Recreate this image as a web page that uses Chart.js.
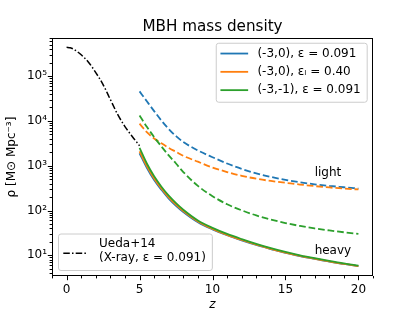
<!DOCTYPE html>
<html><head><meta charset="utf-8">
<script src="https://cdn.jsdelivr.net/npm/chart.js@4/dist/chart.umd.min.js"></script>
<style>html,body{margin:0;padding:0;background:#fff}</style>
</head><body>
<canvas id="c" width="415" height="311"></canvas>
<script>
// ---- data ----
const zModel = [5,5.5,6,6.5,7,7.5,8,9,10,11,12,13,14,15,16,17,18,19,20];
const heavyBlue   = [1900,900,480,290,185,128,93,55,38,28,21.5,17,13.8,11.3,9.6,8.3,7.2,6.4,5.7];
const lightBlue   = [45700,27500,16600,10200,6600,4570,3390,2190,1550,1120,850,676,562,484,427,385,355,331,309];
const heavyOrange = [2100,980,520,310,197,135,97,57,39,28.7,22,17.3,14,11.5,9.7,8.4,7.3,6.4,5.75];
const lightOrange = [8710,5620,4070,3160,2510,2040,1660,1230,912,724,596,513,457,417,380,351,327,309,295];
const heavyGreen  = [2500,1120,580,340,215,146,104,60,41,30,23,18,14.5,11.9,10,8.6,7.5,6.6,5.9];
const lightGreen  = [13200,7410,4370,2690,1700,1120,724,355,209,138,101,77.6,63,52.5,45.2,39.8,35.9,32.7,30.2];
const zUeda = [0,0.25,0.5,0.75,1,1.5,2,2.5,3,3.5,4,4.5,5];
const rhoUeda = [440000,430000,400000,350000,300000,205000,120000,65000,30000,14000,7500,4500,2800];
const seriesLabels = ['(-3,0), ε = 0.091', '(-3,0), εₗ = 0.40', '(-3,-1), ε = 0.091'];
const uedaLabel = ['Ueda+14', '(X-ray, ε = 0.091)'];
const xTickLabels = [0,5,10,15,20];
const yTickLabels = {1:'10¹',2:'10²',3:'10³',4:'10⁴',5:'10⁵'};
const annotations = [{text:'light', z:17.0, rho:690}, {text:'heavy', z:17.0, rho:12.6}];

const FONT = '"DejaVu Sans", sans-serif';
const C = {blue:'#1f77b4', orange:'#ff7f0e', green:'#2ca02c'};
const pts = (xs, ys) => xs.map((x,i)=>({x, y: ys[i]}));
const LW = 1.8, DASH = [6.7, 2.9];

const datasets = [
  {label:seriesLabels[0], data:pts(zModel,heavyBlue), borderColor:C.blue, order:6, legendGroup:1},
  {label:'', data:pts(zModel,lightBlue), borderColor:C.blue, borderDash:DASH, order:5},
  {label:seriesLabels[1], data:pts(zModel,heavyOrange), borderColor:C.orange, order:4, legendGroup:1},
  {label:'', data:pts(zModel,lightOrange), borderColor:C.orange, borderDash:DASH, order:3},
  {label:seriesLabels[2], data:pts(zModel,heavyGreen), borderColor:C.green, order:2, legendGroup:1},
  {label:'', data:pts(zModel,lightGreen), borderColor:C.green, borderDash:DASH, order:1},
  {label:uedaLabel.join('\n'), data:pts(zUeda,rhoUeda), borderColor:'#000', borderWidth:1.5, borderDash:[6.5,2.2,1.5,2.2], order:0, legendGroup:2}
].map(d=>Object.assign({borderWidth:LW, pointRadius:0, fill:false, cubicInterpolationMode:'monotone', backgroundColor:d.borderColor}, d));

const frameTicks = {
  id:'frameTicks',
  afterDraw(chart){
    const {ctx, chartArea:ca, scales:{x,y}} = chart;
    ctx.save();
    ctx.strokeStyle='#000'; ctx.lineWidth=1;
    ctx.strokeRect(Math.round(ca.left)+0.5, Math.round(ca.top)+0.5, Math.round(ca.right-ca.left)-1, Math.round(ca.bottom-ca.top)-1);
    ctx.beginPath();
    x.ticks.forEach(t=>{
      const v=t.value; if(!Number.isInteger(v)) return;
      const px=Math.round(x.getPixelForValue(v))+0.5, len = v%5===0?4.2:2.4;
      ctx.moveTo(px, ca.bottom); ctx.lineTo(px, ca.bottom+len);
    });
    for (let e=0;e<7;e++) for (let m=1;m<10;m++){
      const v=m*Math.pow(10,e); if(v<y.min||v>y.max) continue;
      const py=Math.round(y.getPixelForValue(v))+0.5, len = m===1?4.2:2.4;
      ctx.moveTo(ca.left, py); ctx.lineTo(ca.left-len, py);
    }
    ctx.stroke();
    // annotations
    ctx.fillStyle='#000'; ctx.font='12px '+FONT; ctx.textBaseline='middle'; ctx.textAlign='left';
    annotations.forEach(a=>ctx.fillText(a.text, x.getPixelForValue(a.z), y.getPixelForValue(a.rho)));
    // legends
    const box=(l,t,w,h)=>{
      ctx.beginPath();
      if (ctx.roundRect) ctx.roundRect(l+0.5,t+0.5,w,h,2.5); else ctx.rect(l+0.5,t+0.5,w,h);
      ctx.fillStyle='rgba(255,255,255,0.8)'; ctx.fill();
      ctx.strokeStyle='#cccccc'; ctx.lineWidth=1; ctx.stroke();
    };
    const handle=(ds,x0,x1,yy)=>{
      ctx.save(); ctx.beginPath(); ctx.strokeStyle=ds.borderColor; ctx.lineWidth=ds.borderWidth;
      ctx.setLineDash(ds.borderDash||[]); ctx.moveTo(x0,yy); ctx.lineTo(x1,yy); ctx.stroke(); ctx.restore();
    };
    ctx.font='12px '+FONT;
    const g1 = chart.data.datasets.filter(d=>d.legendGroup===1);
    const tw1 = Math.max(...g1.map(d=>ctx.measureText(d.label).width));
    const w1 = 4.7+27.7+9.3+tw1+6, h1=59;
    const r1 = ca.right-6.3, t1 = ca.top+4.7, l1 = r1-w1;
    box(l1,t1,w1,h1);
    g1.forEach((d,i)=>{
      const yy = t1+10.8+i*18.3;
      handle(d, l1+4.7, l1+32.4, yy);
      ctx.fillStyle='#000'; ctx.font='12px '+FONT; ctx.textBaseline='middle';
      ctx.fillText(d.label, l1+41.7, yy);
    });
    const g2 = chart.data.datasets.filter(d=>d.legendGroup===2)[0];
    const lines = g2.label.split('\n');
    ctx.font='12px '+FONT;
    const tw2 = Math.max(...lines.map(s=>ctx.measureText(s).width));
    const w2 = 41+tw2+6, h2=36.5;
    const l2 = ca.left+6, t2 = ca.bottom-6-h2;
    box(l2,t2,w2,h2);
    handle(g2, l2+5.3, l2+29.5, t2+19.8);
    ctx.fillStyle='#000'; ctx.textBaseline='middle';
    lines.forEach((s,i)=>ctx.fillText(s, l2+41, t2+10.3+i*14.3));
    ctx.restore();
  }
};

new Chart(document.getElementById('c'), {
  type:'line',
  data:{datasets},
  options:{
    responsive:false, animation:false, devicePixelRatio:1,
    layout:{padding:{left:0,right:42,top:0,bottom:0}},
    plugins:{
      legend:{display:false}, tooltip:{enabled:false},
      title:{display:true, fullSize:false, text:'MBH mass density', color:'#000', font:{family:FONT, size:15.2, weight:'normal', lineHeight:1.2}, padding:{top:17.5,bottom:2.3}}
    },
    scales:{
      x:{type:'linear', min:-1, max:21,
        afterFit:s=>{s.height=35;},
        grid:{display:false, drawTicks:false, tickLength:0},
        border:{display:false},
        ticks:{stepSize:1, autoSkip:false, maxRotation:0, padding:7, color:'#000', font:{family:FONT,size:12},
          callback:v=>xTickLabels.includes(v)?String(v):''},
        title:{display:true, text:'z', color:'#000', font:{family:FONT,size:12,style:'italic',lineHeight:1}, padding:{top:0,bottom:0.5}}
      },
      y:{type:'logarithmic', min:3.45, max:7.1e5,
        afterFit:s=>{s.width=52;},
        grid:{display:false, drawTicks:false, tickLength:0},
        border:{display:false},
        ticks:{autoSkip:false, padding:5, color:'#000', font:{family:FONT,size:12},
          callback:v=>{const e=Math.log10(v); const r=Math.round(e); return (Math.abs(e-r)<1e-9 && yTickLabels[r])?yTickLabels[r]:'';}},
        title:{display:true, text:'ρ [M⊙ Mpc⁻³]', color:'#000', font:{family:FONT,size:12}, padding:{top:5,bottom:0}}
      }
    }
  },
  plugins:[frameTicks]
});
</script>
</body></html>
